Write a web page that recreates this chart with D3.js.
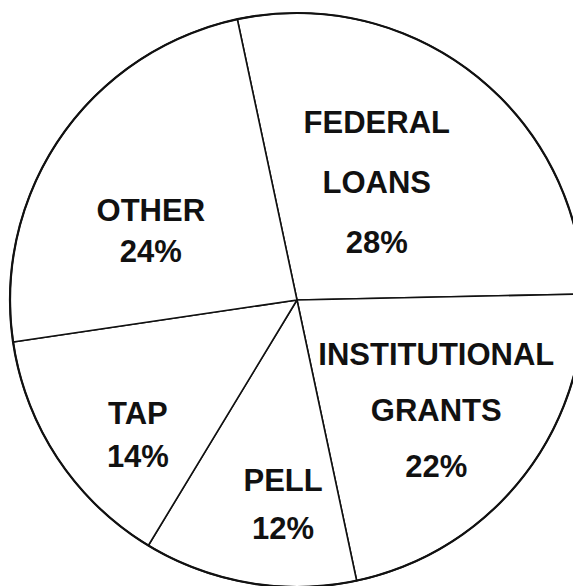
<!DOCTYPE html>
<html>
<head>
<meta charset="utf-8">
<script src="https://cdn.jsdelivr.net/npm/d3@7"></script>
<style>
  html, body { margin: 0; padding: 0; background: #fff; }
  svg { display: block; }
</style>
</head>
<body>
<div id="pie"></div>
<script>
// slice data, clockwise from the top
const categories = ["FEDERAL LOANS", "INSTITUTIONAL GRANTS", "PELL", "TAP", "OTHER"];
const labelLines = [["FEDERAL", "LOANS"], ["INSTITUTIONAL", "GRANTS"], ["PELL"], ["TAP"], ["OTHER"]];
const shares = [28, 22, 12, 14, 24];

// label placement (polar, degrees clockwise from top) and line spacing
const labelAngle = [33.9, 128.1, 183.9, 229.9, 295.5];
const labelRadius = [143, 177, 204, 208, 162];
const lineGap = [60, 56, 48, 43, 41];

const width = 573, height = 586;
const cx = 297, cy = 300, radius = 287;
const fontSize = 31, capH = fontSize * 0.729;

function drawPie() {
  const svg = d3.select("#pie")
    .append("svg")
    .attr("width", width)
    .attr("height", height);

  svg.append("rect")
    .attr("width", width)
    .attr("height", height)
    .attr("fill", "#fff");

  const g = svg.append("g")
    .attr("transform", `translate(${cx},${cy})`);

  const start = -12 * Math.PI / 180;
  const pie = d3.pie()
    .sort(null)
    .value(d => d)
    .startAngle(start)
    .endAngle(start + 2 * Math.PI);

  const arc = d3.arc()
    .innerRadius(0)
    .outerRadius(radius);

  const arcs = pie(shares);

  g.selectAll("path.slice")
    .data(arcs)
    .enter()
    .append("path")
    .attr("class", "slice")
    .attr("d", arc)
    .attr("fill", "#fff")
    .attr("stroke", "#111")
    .attr("stroke-width", 1.6)
    .attr("stroke-linejoin", "round");

  // heavier outer rim
  g.append("circle")
    .attr("r", radius)
    .attr("fill", "none")
    .attr("stroke", "#111")
    .attr("stroke-width", 2.2);

  // labels
  const labels = g.selectAll("g.label")
    .data(arcs)
    .enter()
    .append("g")
    .attr("class", "label")
    .attr("transform", (d, i) => {
      const p = d3.pointRadial(labelAngle[i] * Math.PI / 180, labelRadius[i]);
      return `translate(${p[0]},${p[1]})`;
    });

  labels.each(function(d, i) {
    const lines = labelLines[i].concat([shares[i] + "%"]);
    const n = lines.length;
    const firstBase = -(n - 1) * lineGap[i] / 2 + capH / 2;
    d3.select(this).selectAll("text")
      .data(lines)
      .enter()
      .append("text")
      .attr("x", 0)
      .attr("y", (t, j) => firstBase + j * lineGap[i])
      .attr("text-anchor", "middle")
      .attr("font-family", "'Liberation Sans', Arial, Helvetica, sans-serif")
      .attr("font-weight", "bold")
      .attr("font-size", fontSize)
      .attr("fill", "#111")
      .text(t => t);
  });
}

drawPie();
</script>
</body>
</html>
